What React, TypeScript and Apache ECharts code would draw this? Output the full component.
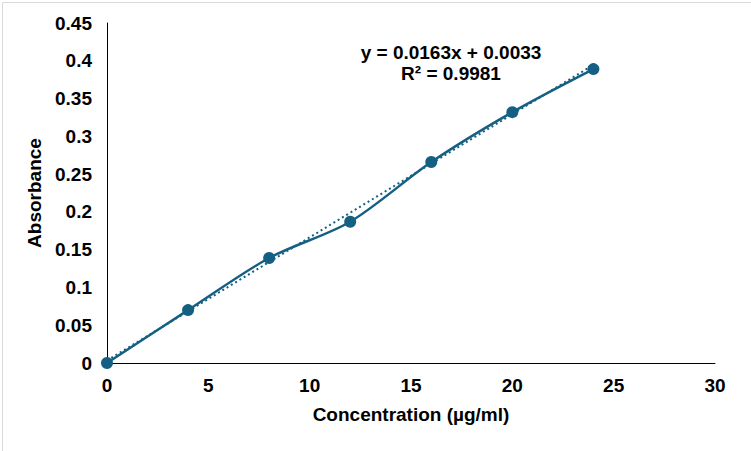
import React, { useEffect, useRef } from "react";
import * as echarts from "echarts";

const concentration = [0, 4, 8, 12, 16, 20, 24];
const absorbance = [0, 0.07, 0.139, 0.187, 0.266, 0.332, 0.389];
const slope = 0.0163;
const intercept = 0.0033;
const equationText = "y = 0.0163x + 0.0033";
const r2Text = "R² = 0.9981";
const xTitle = "Concentration (µg/ml)";
const yTitle = "Absorbance";

const COLOR = "#156082";
const FONT = "Liberation Sans, Arial, sans-serif";
const FS = 19;

export default function App() {
  const ref = useRef<HTMLDivElement>(null);
  useEffect(() => {
    if (!ref.current) return;
    const chart = echarts.init(ref.current, undefined, { renderer: "svg" });
    const xs = [concentration[0], concentration[concentration.length - 1]];
    const trend = xs.map((x) => [x, slope * x + intercept]);
    chart.setOption({
      animation: false,
      backgroundColor: "#ffffff",
      textStyle: { fontFamily: FONT },
      grid: { left: 107, right: 36, top: 23, bottom: 88 },
      xAxis: {
        type: "value",
        min: 0,
        max: 30,
        interval: 5,
        name: xTitle,
        nameLocation: "middle",
        nameGap: 42,
        nameTextStyle: { color: "#000", fontWeight: "bold", fontSize: FS, fontFamily: FONT },
        axisLine: { show: true, lineStyle: { color: "#000", width: 1 } },
        axisTick: { show: false },
        splitLine: { show: false },
        axisLabel: { color: "#000", fontWeight: "bold", fontSize: FS, margin: 13, fontFamily: FONT },
      },
      yAxis: {
        type: "value",
        min: 0,
        max: 0.45,
        interval: 0.05,
        name: yTitle,
        nameLocation: "middle",
        nameGap: 60,
        nameTextStyle: { color: "#000", fontWeight: "bold", fontSize: FS, fontFamily: FONT },
        axisLine: { show: true, lineStyle: { color: "#000", width: 1 } },
        axisTick: { show: false },
        splitLine: { show: false },
        axisLabel: { color: "#000", fontWeight: "bold", fontSize: FS, margin: 15, fontFamily: FONT },
      },
      series: [
        {
          type: "line",
          data: trend,
          symbol: "none",
          lineStyle: { color: COLOR, width: 2, type: [2, 3] },
          z: 1,
        },
        {
          type: "line",
          data: concentration.map((x, i) => [x, absorbance[i]]),
          smooth: 0.3,
          symbol: "circle",
          symbolSize: 12,
          itemStyle: { color: COLOR },
          lineStyle: { color: COLOR, width: 2.5 },
          z: 2,
        },
      ],
      graphic: [
        {
          type: "rect",
          left: 0,
          top: 0,
          shape: { width: 750, height: 450 },
          style: { fill: "none", stroke: "#d9d9d9", lineWidth: 1 },
          silent: true,
        },
        {
          type: "text",
          x: 451,
          y: 52,
          style: {
            text: equationText,
            fill: "#000",
            font: `bold ${FS}px ${FONT}`,
            textAlign: "center",
            textVerticalAlign: "middle",
          },
        },
        {
          type: "text",
          x: 451,
          y: 73,
          style: {
            text: r2Text,
            fill: "#000",
            font: `bold ${FS}px ${FONT}`,
            textAlign: "center",
            textVerticalAlign: "middle",
          },
        },
      ],
    });
    return () => chart.dispose();
  }, []);
  return (
    <div
      ref={ref}
      style={{ position: "fixed", left: 0, top: 0, width: 751, height: 451 }}
    />
  );
}
